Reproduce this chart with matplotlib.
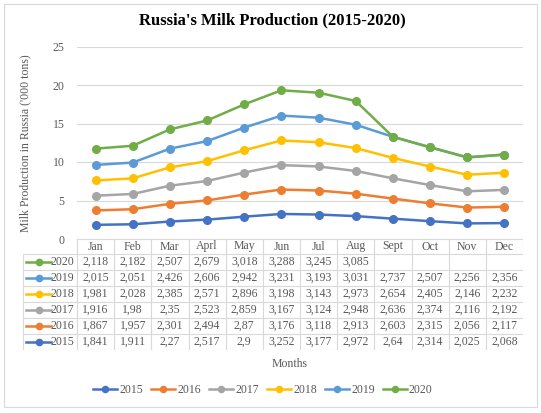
import matplotlib.pyplot as plt
import numpy as np
from matplotlib.lines import Line2D
from matplotlib.patches import Rectangle

plt.rcParams['font.family'] = ['Liberation Serif', 'DejaVu Serif']

months = ['Jan', 'Feb', 'Mar', 'Aprl', 'May', 'Jun', 'Jul', 'Aug', 'Sept', 'Oct', 'Nov', 'Dec']
years = ['2015', '2016', '2017', '2018', '2019', '2020']
p2015 = [1.841, 1.911, 2.27, 2.517, 2.9, 3.252, 3.177, 2.972, 2.64, 2.314, 2.025, 2.068]
p2016 = [1.867, 1.957, 2.301, 2.494, 2.87, 3.176, 3.118, 2.913, 2.603, 2.315, 2.056, 2.117]
p2017 = [1.916, 1.98, 2.35, 2.523, 2.859, 3.167, 3.124, 2.948, 2.636, 2.374, 2.116, 2.192]
p2018 = [1.981, 2.028, 2.385, 2.571, 2.896, 3.198, 3.143, 2.973, 2.654, 2.405, 2.146, 2.232]
p2019 = [2.015, 2.051, 2.426, 2.606, 2.942, 3.231, 3.193, 3.031, 2.737, 2.507, 2.256, 2.356]
p2020 = [2.118, 2.182, 2.507, 2.679, 3.018, 3.288, 3.245, 3.085, None, None, None, None]
series = [p2015, p2016, p2017, p2018, p2019, p2020]
colors = ['#4472C4', '#ED7D31', '#A5A5A5', '#FFC000', '#5B9BD5', '#70AD47']

W, H = 541, 413
fig = plt.figure(figsize=(W / 100, H / 100), dpi=100)

def box(x0, y0, x1, y1):
    # pixel box (top-left origin) -> figure fraction rect
    return [x0 / W, 1 - y1 / H, (x1 - x0) / W, (y1 - y0) / H]

grid_c = '#D9D9D9'
text_c = '#595959'
fs = 8.5

# stacked line chart (Excel "stacked line" - blanks count as zero)
vals = np.array([[np.nan if v is None else v for v in s] for s in series])
cum = np.cumsum(np.nan_to_num(vals), axis=0)

ax = fig.add_axes(box(77, 46.5, 523, 239))
x = np.arange(len(months))
for i, yr in enumerate(years):
    ax.plot(x, cum[i], color=colors[i], lw=1.8, marker='o', ms=5.5, label=yr, zorder=3 + i)
ax.set_xlim(-0.5, 11.5)
ax.set_ylim(0, 25)
ax.set_yticks(range(0, 26, 5))
ax.set_xticks([])
ax.tick_params(axis='y', length=0, pad=9, labelsize=fs, labelcolor=text_c)
ax.yaxis.grid(True, color=grid_c, lw=0.8)
ax.set_axisbelow(True)
for sp in ax.spines.values():
    sp.set_visible(False)

# data table under the plot
cw = (523 - 77) / 12
left_w = (77 - 23) / cw
tab = fig.add_axes(box(23, 239, 523, 350))
tab.set_xlim(-0.5 - left_w, 11.5)
tab.set_ylim(6 + 15 / 16, 0)
tab.axis('off')
hdr = 15 / 16
lc = dict(color=grid_c, lw=0.8)
# header row
tab.plot([-0.5, 11.5], [0, 0], **lc)
for j in range(13):
    tab.plot([j - 0.5, j - 0.5], [0, hdr], **lc)
for j, m in enumerate(months):
    tab.text(j, hdr / 2, m, ha='center', va='center', fontsize=fs, color=text_c)
# body rows, 2020 on top
for r in range(7):
    tab.plot([-0.5 - left_w, 11.5], [hdr + r, hdr + r], **lc)
for xv in [-0.5 - left_w] + [j - 0.5 for j in range(13)]:
    tab.plot([xv, xv], [hdr, hdr + 6], **lc)
for r, i in enumerate(range(len(years) - 1, -1, -1)):
    yc = hdr + r + 0.5
    xl = -0.5 - left_w
    tab.add_line(Line2D([xl + 3 / cw, xl + 28 / cw], [yc, yc], color=colors[i], lw=1.8))
    tab.plot(xl + 15.5 / cw, yc, 'o', color=colors[i], ms=4.5)
    tab.text(-0.5 - 3 / cw, yc, years[i], ha='right', va='center', fontsize=fs, color=text_c)
    for j, v in enumerate(series[i]):
        if v is None:
            continue
        tab.text(j, yc, f'{v:g}'.replace('.', ','), ha='center', va='center',
                 fontsize=fs, color=text_c)

fig.text(290 / W, 1 - 364 / H, 'Months', ha='center', va='center', fontsize=fs, color=text_c)
fig.text(25 / W, 1 - 143 / H, "Milk Production in Russia ('000 tons)", rotation=90,
         ha='center', va='center', fontsize=fs, color=text_c)
fig.text(272 / W, 1 - 20 / H, "Russia's Milk Production (2015-2020)", ha='center', va='center',
         fontsize=12, fontweight='bold', color='#000000')

handles, labels = ax.get_legend_handles_labels()
fig.legend(handles, labels, loc='center', bbox_to_anchor=(263 / W, 1 - 390 / H), ncol=6,
           frameon=False, fontsize=fs, handlelength=2.0, handletextpad=0.2, columnspacing=0.7,
           markerscale=0.8, labelcolor=text_c)

fig.patches.append(Rectangle((4 / W, 1 - 407 / H), 533 / W, 403 / H, transform=fig.transFigure,
                             fill=False, edgecolor=grid_c, lw=0.8))

fig.savefig('out.png', dpi=100)
